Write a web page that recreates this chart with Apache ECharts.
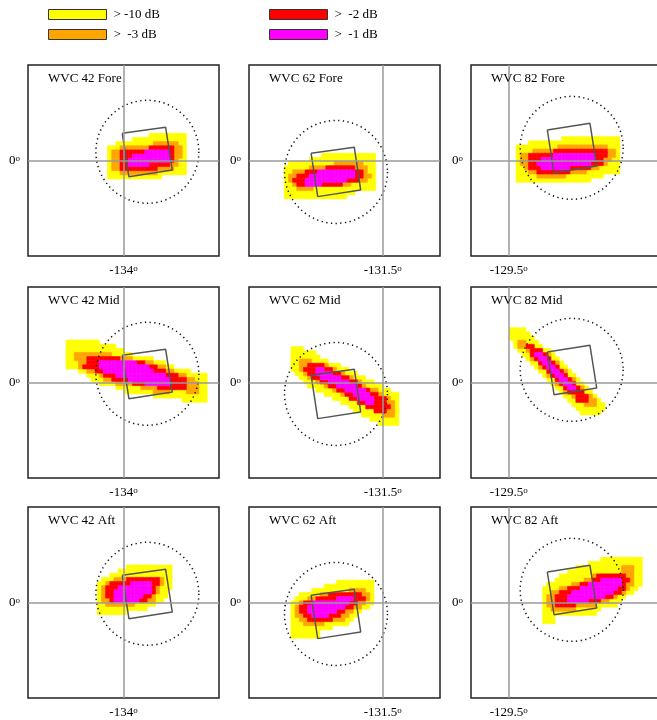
<!DOCTYPE html>
<html>
<head>
<meta charset="utf-8">
<script src="https://cdn.jsdelivr.net/npm/echarts@6/dist/echarts.min.js"></script>
<style>
  html, body { margin: 0; padding: 0; background: #fff; }
  #chart { width: 657px; height: 720px; }
</style>
</head>
<body>
<div id="chart"></div>
<script>
// Response levels of the footprint, outermost first
const levelNames = ['> -10 dB', '>  -3 dB', '>  -2 dB', '>  -1 dB'];
const levelCodes = ['y', 'o', 'r', 'm'];
const levelColors = ['#ffff00', '#ffa500', '#ff0000', '#ff00ff'];

// Panel columns (wind vector cells) and rows (antenna beams)
const wvcNumbers = [42, 62, 82];
const beams = ['Fore', 'Mid', 'Aft'];
const centerLon = [-134, -131.5, -129.5];
const lonMin = [-134.46, -132.144, -129.682];
const lonSpan = 0.92;
const latRange = [-0.46, 0.46];
const cellSize = 0.02;

// Dotted circle around each cell centre
const circleCenter = [[-133.885, 0.042], [-131.725, -0.055], [-129.197, 0.061]];
const circleRadius = 0.248;

// Wind vector cell outlines (lon, lat corners)
const quad42 = [[-134.006, 0.131], [-133.797, 0.160], [-133.765, -0.046], [-133.974, -0.078]];
const quad62 = [[-131.845, 0.035], [-131.637, 0.064], [-131.606, -0.142], [-131.813, -0.174]];
const quad82 = [[-129.3145, 0.147], [-129.109, 0.179], [-129.0765, -0.0265], [-129.282, -0.059]];

// Lon/lat of the top-left corner of each level grid, [beam][wvc]
const gridOrigins = [
  [[-134.077, 0.131], [-131.974, 0.035], [-129.465, 0.115]],
  [[-134.277, 0.205], [-131.942, 0.173], [-129.497, 0.264]],
  [[-134.126, 0.181], [-131.942, 0.108], [-129.337, 0.218]]
];

// Level grids, one row per 0.02 deg of latitude (y/o/r/m = level, '.' = below -10 dB)
const fore42 = [
  "..........yyyyyyyyy",
  "......yyyyyyyyyyyyy",
  "..yyyyyyyyyooooooyy",
  "yyyooooooorrrrrrooy",
  "yoorrrrrrmmmmmmrooy",
  "yoorrrmmmmmmmmmrooy",
  "yoorrmmmmmmmmmmroyy",
  "yoorrmmmmmrrrrrooyy",
  "yoorrrrrrrrrooooyyy",
  "yyyoooooooooyyyyyyy",
  "yyyyyyyyyyyyy"
];
const fore62 = [
  ".........yyyyyyyyyyyyy",
  "......yyyyyyyyyyyyyyyy",
  ".yyyyyyyyyyyoooooooyyy",
  "yyyyyyoooorrrrrrroooyy",
  "yyooorrrmmmmmmmmmrroyy",
  "yoorrrmmmmmmmmmmmrrooy",
  "yorrrmmmmmmmmmmrrrooyy",
  "yyorrmmmmrrrrrooyyyyyy",
  "yyyooooyyyyyyyyyyyyyyy",
  "yyyyyyyyyyyyyyyyy",
  "yyyyyyyyyyyyyyy"
];
const fore82 = [
  "...........yyyyyyyyyyyyyy",
  "...yyyyyyyyyyyyyyyyyyyyyy",
  "yyyyyyyyyyooooooooooooyyy",
  "yyyyooooorrrrrrrrrrrrrooy",
  "yoorrrrrrmmmmmmmmmmrrrooy",
  "yoorrrmmmmmmmmmmmmmrrooyy",
  "yoorrmmmmmmmmmmmmmrrroyyy",
  "yyorrrmmmmmmmrrrrrooyyyyy",
  "yyyoorrrrrrrrooooyyyyyyyy",
  "yyyyyoooooooyyyyyyyyy",
  "yyyyyyyyyyyyyyyyyy"
];
const mid42 = [
  "yyyyyyyy",
  "yyyyyyyyyyyy",
  "yyyyyyyyyyyyyy",
  "yyoooooooooyyyyy",
  "yyooorrrrrrrroooyyyyy",
  "yyyoorrrmmmmmmmmmrrooyyy",
  "yyyorrrrmmmmmmmmmmmmrrooyy",
  "...yyoorrmmmmmmmmmmmmrrrooyyyy",
  ".....yyyorrrmmmmmmmmmmmmrrrooyyyyy",
  "......yyyoorrrrmmmmmmmmmmrrrrooyyy",
  "........yyyyoooorrrmmmmmmrrrroooyy",
  "............yyyyyyoooorrrrrrroooyy",
  "..............yyyyyyyooooyyyyoooyy",
  ".....................yyyyyyyyyyyyy",
  "............................yyyyyy"
];
const mid62 = [
  "yyy",
  "yyyyyy",
  "yyyyyyy",
  "yyoooyyyy",
  "yyoorrrroyyy",
  "yyorrrmmrroyyy",
  ".yyorrmmmmrroyyy",
  "..yyorrmmmmmrroyyy",
  "...yyyorrmmmmmrroyyy",
  "....yyyyorrmmmmmroyyyy",
  "......yyyyorrmmmmmrooyyy",
  "........yyyyorrmmmmrroyyyy",
  "..........yyyyrrmmmmrrroyy",
  "............yyyyrrmmrrrooy",
  "..............yyyyrrrrrroy",
  "...............yyyyyrrrooy",
  ".................yyyyyoooy",
  "...................yyyyyyy",
  ".....................yyyyy"
];
const mid82 = [
  "yyyy",
  "yyyyy",
  "yyyyyy",
  ".yooyyy",
  ".yoorryy",
  "..yyorrryy",
  "...yyrmmroy",
  "....yormmryy",
  ".....yyrmmroy",
  "......yormmryy",
  ".......yyrmmroy",
  "........yormmryy",
  ".........yyrmmroy",
  "..........yormmryy",
  "...........yyrmmroy",
  "............yorrrryy",
  ".............yyorrroy",
  "..............yyrrrooy",
  "...............yyyoooyy",
  "................yyyyyyy",
  ".................yyyyy"
];
const aft42 = [
  ".......yyyyyyyyyyy",
  ".....yyyyyyyyyyyyy",
  "...yyyyyyyyyyyyyyy",
  ".yyyooorrrrrrrroyy",
  "yyorrrrrmmmmmrroyy",
  "yorrrmmmmmmmmroyyy",
  "yorrmmmmmmmmmroyy",
  "yorrmmmmmmmrroyyy",
  "yoormmmmmmrrooyy",
  "yyoooooooyyyyy",
  "yyyyyyyyyyyy",
  "yyyyyyy"
];
const aft62 = [
  "...........yyyyyyyyy",
  "........yyyyyyyyyyyy",
  ".....yyyyyyyyyooooyy",
  "..yyyyyoorrrrrrrrooy",
  ".yyyoorrrrrmmmmrrroy",
  "yyorrmmmmmmmmmrrooyy",
  "yorrmmmmmmmmmrrooyy",
  "yorrmmmmmmmrrooyy",
  "yoorrmmmmrrrooyy",
  "yyoorrrrrroooyy",
  "yyyoooooyyyyyy",
  "yyyyyyyyyy",
  "yyyyyyy",
  "yyyyyyy"
];
const aft82 = [
  "..............yyyyyyyyyy",
  "...........yyyyyyyyyyyyy",
  "........yyyyyyyyyyyoooyy",
  "......yyyyyyyyyyyyyoooyy",
  "....yyyyyyyyorrrrrrrooyy",
  "...yyyyyyyoorrmmmmmrroyy",
  ".yyyyyyoorrmmmmmmmmrooyy",
  "yyyyoorrrmmmmmmmmmrroyy",
  "yyoorrrmmmmmmmmmmrroyy",
  "yoorrrmmmmmmmmmrroyy",
  "yoorrrmmmmmrrrooyyy",
  "yoorrrrroooooyyyyy",
  "yyooooooyyyyyy",
  "yyyyyyyyyyyyy",
  "yyy",
  "yyy"
];

const levelGrids = [
  [fore42, fore62, fore82],
  [mid42, mid62, mid82],
  [aft42, aft62, aft82]
];
const cellQuads = [quad42, quad62, quad82];

// ---- layout ----
const FONT = 'Liberation Serif';
const gridLeft = [28, 249, 471];
const gridTop = [65, 287, 507];
const gridSize = 191;

// Turn a level grid into the corner lon/lat of every cell at one level
function cellsAtLevel(rows, origin, code) {
  const out = [];
  rows.forEach((row, j) => {
    for (let k = 0; k < row.length; k++) {
      if (row[k] === code) out.push([origin[0] + k * cellSize, origin[1] - j * cellSize]);
    }
  });
  return out;
}

const degreeRich = {
  n: { fontFamily: FONT, fontSize: 13, color: '#000' },
  s: { fontFamily: FONT, fontSize: 9, color: '#000', verticalAlign: 'top' }
};
const degreeLabel = v => '{n|' + v + '}{s|o}';

const grids = [], xAxes = [], yAxes = [], series = [], titles = [];

for (let r = 0; r < 3; r++) {
  for (let c = 0; c < 3; c++) {
    const idx = r * 3 + c;
    grids.push({
      left: gridLeft[c], top: gridTop[r], width: gridSize, height: gridSize,
      outerBoundsMode: 'none', containLabel: false,
      show: true, borderColor: '#222', borderWidth: 1.5, backgroundColor: 'transparent'
    });
    xAxes.push({
      type: 'value', gridIndex: idx, min: lonMin[c], max: lonMin[c] + lonSpan,
      axisLine: { show: false }, axisTick: { show: false }, splitLine: { show: false },
      axisLabel: { customValues: [centerLon[c]], margin: 8, formatter: degreeLabel, rich: degreeRich }
    });
    yAxes.push({
      type: 'value', gridIndex: idx, min: latRange[0], max: latRange[1],
      axisLine: { show: false }, axisTick: { show: false }, splitLine: { show: false },
      axisLabel: { customValues: [0], margin: 8, formatter: degreeLabel, rich: degreeRich }
    });
    titles.push({
      text: 'WVC ' + wvcNumbers[c] + ' ' + beams[r],
      left: gridLeft[c] + 20, top: gridTop[r] + 7, padding: 0,
      textStyle: { fontFamily: FONT, fontSize: 13, fontWeight: 'normal', color: '#000' }
    });

    // crosshair through the reference lon/lat
    series.push({
      type: 'line', xAxisIndex: idx, yAxisIndex: idx, data: [], z: 1, silent: true,
      markLine: {
        silent: true, symbol: ['none', 'none'], animation: false,
        label: { show: false },
        lineStyle: { color: '#9a9a9a', width: 1.5, type: 'solid' },
        data: [{ xAxis: centerLon[c] }, { yAxis: 0 }]
      }
    });

    // footprint cells, one series per level
    levelCodes.forEach((code, l) => {
      const fill = levelColors[l];
      series.push({
        type: 'custom', name: levelNames[l], xAxisIndex: idx, yAxisIndex: idx, z: 2,
        itemStyle: { color: fill }, silent: true,
        encode: { x: 0, y: 1 },
        data: cellsAtLevel(levelGrids[r][c], gridOrigins[r][c], code),
        renderItem: (params, api) => {
          const p0 = api.coord([api.value(0), api.value(1)]);
          const p1 = api.coord([api.value(0) + cellSize, api.value(1) - cellSize]);
          return {
            type: 'rect',
            shape: { x: p0[0], y: p0[1], width: p1[0] - p0[0], height: p1[1] - p0[1] },
            style: { fill: fill, stroke: fill, lineWidth: 0.6 }
          };
        }
      });
    });

    // dotted circle
    series.push({
      type: 'custom', xAxisIndex: idx, yAxisIndex: idx, z: 3, silent: true,
      encode: { x: 0, y: 1 },
      data: [[circleCenter[c][0], circleCenter[c][1], circleRadius]],
      renderItem: (params, api) => {
        const ctr = api.coord([api.value(0), api.value(1)]);
        const rad = api.size([api.value(2), 0])[0];
        return {
          type: 'circle',
          shape: { cx: ctr[0], cy: ctr[1], r: rad },
          style: { fill: 'none', stroke: '#111', lineWidth: 1.5, lineDash: [1.3, 3.4], lineCap: 'butt' }
        };
      }
    });

    // cell outline
    const q = cellQuads[c];
    series.push({
      type: 'line', xAxisIndex: idx, yAxisIndex: idx, z: 4, silent: true,
      showSymbol: false, symbol: 'none',
      lineStyle: { color: '#555', width: 1.5 },
      data: q.concat([q[0]])
    });
  }
}

const legendBase = {
  orient: 'vertical', top: 8, padding: 0, itemWidth: 58, itemHeight: 10, itemGap: 7,
  icon: 'rect', selectedMode: false,
  itemStyle: { borderColor: '#333', borderWidth: 1 },
  textStyle: { fontFamily: FONT, fontSize: 13, color: '#000', padding: [0, 0, 0, 2] }
};

const option = {
  animation: false,
  backgroundColor: '#fff',
  title: titles,
  legend: [
    Object.assign({}, legendBase, { left: 48, data: [levelNames[0], levelNames[1]] }),
    Object.assign({}, legendBase, { left: 269, data: [levelNames[2], levelNames[3]] })
  ],
  grid: grids,
  xAxis: xAxes,
  yAxis: yAxes,
  series: series
};

const chart = echarts.init(document.getElementById('chart'));
chart.setOption(option);
</script>
</body>
</html>
